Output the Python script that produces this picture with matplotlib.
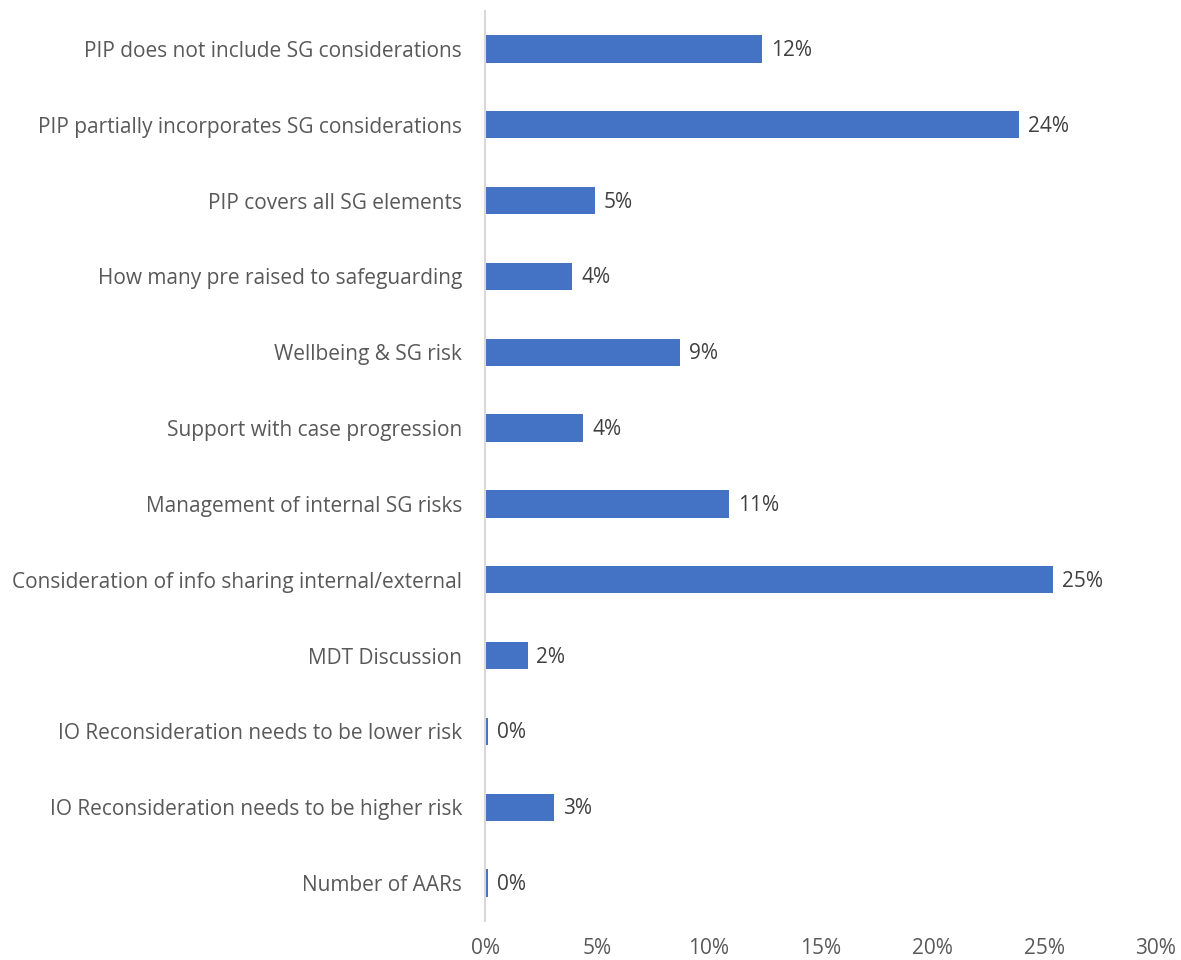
import matplotlib.pyplot as plt
from matplotlib.ticker import PercentFormatter

categories = [
    "PIP does not include SG considerations",
    "PIP partially incorporates SG considerations",
    "PIP covers all SG elements",
    "How many pre raised to safeguarding",
    "Wellbeing & SG risk",
    "Support with case progression",
    "Management of internal SG risks",
    "Consideration of info sharing internal/external",
    "MDT Discussion",
    "IO Reconsideration needs to be lower risk",
    "IO Reconsideration needs to be higher risk",
    "Number of AARs",
]
shares = [12.4, 23.9, 4.9, 3.9, 8.7, 4.4, 10.9, 25.4, 1.9, 0.15, 3.1, 0.15]
x_ticks = [0, 5, 10, 15, 20, 25, 30]

plt.rcParams["font.family"] = ["Open Sans", "DejaVu Sans"]

fig = plt.figure(figsize=(11.81, 9.6), dpi=100)
ax = fig.add_axes([0.4107, 0.0406, 0.568, 0.948])

ypos = list(range(len(categories)))
bars = ax.barh(ypos, shares, height=0.36, color="#4472C4")
for b, v in zip(bars, shares):
    ax.text(b.get_width() + 0.4, b.get_y() + b.get_height() / 2 + 0.02, f"{v:.0f}%",
            va="center", ha="left", fontsize=15, color="#404040")

ax.set_yticks(ypos)
ax.set_yticklabels(categories, fontsize=15, color="#595959")
ax.set_ylim(len(categories) - 0.5, -0.5)
ax.set_xlim(0, 30)
ax.set_xticks(x_ticks)
ax.xaxis.set_major_formatter(PercentFormatter(decimals=0))
ax.tick_params(axis="x", labelsize=15, labelcolor="#595959", length=0, pad=12)
ax.tick_params(axis="y", length=0, pad=16.5)

for s in ["top", "right", "bottom"]:
    ax.spines[s].set_visible(False)
ax.spines["left"].set_color("#D9D9D9")
ax.spines["left"].set_linewidth(1.5)

fig.savefig("out.png", dpi=100)
